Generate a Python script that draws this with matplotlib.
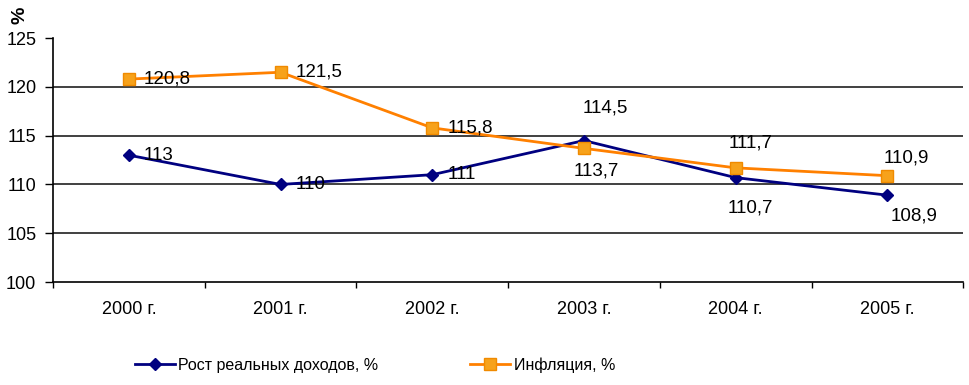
import matplotlib.pyplot as plt
import numpy as np

plt.rcParams['font.family'] = ['Liberation Sans', 'DejaVu Sans']

years = ['2000 г.', '2001 г.', '2002 г.', '2003 г.', '2004 г.', '2005 г.']
income = [113, 110, 111, 114.5, 110.7, 108.9]
inflation = [120.8, 121.5, 115.8, 113.7, 111.7, 110.9]

# label offsets from the point, in pixels: (dx, dy), None = right of point
income_off = [None, None, None, (21, 33), (15, -30), (27, -21)]
inflation_off = [None, None, None, (12, -23), (15, 25), (19, 18)]

def fmt(v):
    return ('%g' % v).replace('.', ',')

fig = plt.figure(figsize=(9.7, 3.85), dpi=100)
ax = fig.add_axes([0.0546, 0.2675, 0.9384, 0.6335])

x = np.arange(len(years))
ax.plot(x, income, color='#000080', lw=2, marker='D', ms=6,
        mfc='#000080', mec='#000080', label='Рост реальных доходов, %', zorder=3)
ax.plot(x, inflation, color='#FF8000', lw=2, marker='s', ms=8,
        mfc='#F7A21B', mec='#F08A00', label='Инфляция, %', zorder=3)

for vals, offs in [(income, income_off), (inflation, inflation_off)]:
    for xi, v, o in zip(x, vals, offs):
        if o is None:
            xt, ha = (11, 0), 'left'
        else:
            xt, ha = (o[0] * 0.72, o[1] * 0.72), 'center'
        ax.annotate(fmt(v), (xi, v), xytext=xt, textcoords='offset points',
                    ha=ha, va='center', fontsize=13.5, zorder=4)

ax.set_xlim(-0.5, 5.5)
ax.set_ylim(100, 125)
ax.set_yticks([100, 105, 110, 115, 120, 125])
ax.set_xticks(x)
ax.set_xticklabels(years, fontsize=13)
ax.set_xticks(np.arange(-0.5, 6, 1), minor=True)
ax.tick_params(axis='x', which='major', length=0, pad=14)
ax.tick_params(axis='x', which='minor', length=4, direction='out', width=1)
ax.tick_params(axis='y', labelsize=13, length=6, width=1, pad=6)
for yv in [105, 110, 115, 120]:
    ax.axhline(yv, color='#202020', lw=1.2, zorder=1)

ax.spines['top'].set_visible(False)
ax.spines['right'].set_visible(False)
ax.spines['left'].set_linewidth(1.2)
ax.spines['bottom'].set_linewidth(1.2)

fig.text(0.021, 0.96, '%', rotation=90, fontsize=14, fontweight='bold',
         ha='center', va='center')

fig.legend(loc='center left', bbox_to_anchor=(0.1247, 0.052), ncol=2, frameon=False,
           fontsize=11.5, columnspacing=5.75, handlelength=2.5, handletextpad=0.2)

fig.savefig('out.png', dpi=100)
